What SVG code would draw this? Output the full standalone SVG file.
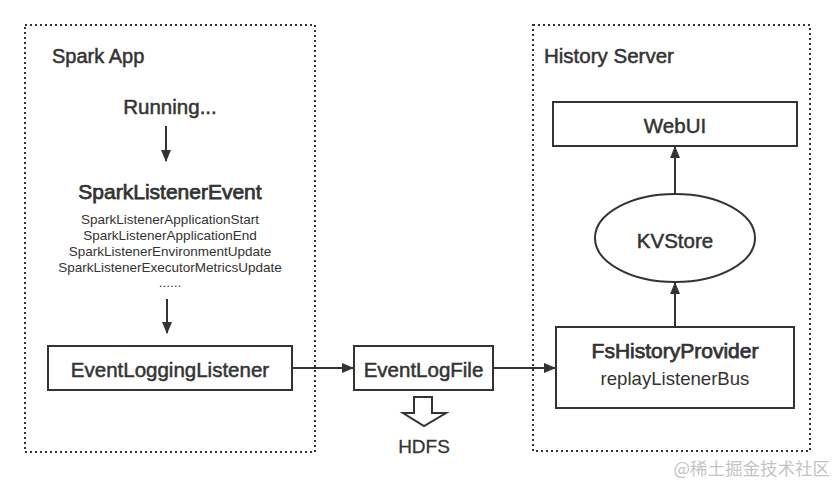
<svg xmlns="http://www.w3.org/2000/svg" width="836" height="485" viewBox="0 0 836 485">
<defs>
<style>
text{font-family:"Liberation Sans",Arial,sans-serif;fill:#333;}
.m{font-size:20.5px;stroke:#333;stroke-width:0.5;}
.b{font-size:21px;stroke:#333;stroke-width:0.75;}
.s{font-size:13.5px;}
.box{fill:#fff;stroke:#333;stroke-width:2;}
.grp{fill:none;stroke:#333;stroke-width:2;stroke-dasharray:2 3;}
.ln{stroke:#333;stroke-width:2;fill:none;}
</style>
<marker id="a" markerWidth="12" markerHeight="12" refX="11" refY="5" orient="auto" markerUnits="userSpaceOnUse">
<path d="M0,0 L12,5 L0,10 z" fill="#333"/>
</marker>
</defs>
<rect width="836" height="485" fill="#fff"/>
<g id="spark-app">
<rect class="grp" x="25" y="25" width="290" height="427"/>
<text class="m" x="52" y="63" style="font-size:20px">Spark App</text>
</g>
<g id="history-server">
<rect class="grp" x="533" y="25" width="277" height="426"/>
<text class="m" x="544" y="63">History Server</text>
</g>
<g id="running">
<text class="m" x="170" y="114" text-anchor="middle">Running...</text>
</g>
<g id="spark-listener-event">
<text class="b" x="170" y="199" text-anchor="middle">SparkListenerEvent</text>
<text class="s" x="170" y="224" text-anchor="middle">SparkListenerApplicationStart</text>
<text class="s" x="170" y="240" text-anchor="middle">SparkListenerApplicationEnd</text>
<text class="s" x="170" y="256" text-anchor="middle">SparkListenerEnvironmentUpdate</text>
<text class="s" x="170" y="272" text-anchor="middle">SparkListenerExecutorMetricsUpdate</text>
<text class="s" x="170" y="287" text-anchor="middle">......</text>
</g>
<g id="event-logging-listener">
<rect class="box" x="48" y="346" width="244" height="44"/>
<text class="m" x="170" y="377" text-anchor="middle">EventLoggingListener</text>
</g>
<g id="event-log-file">
<rect class="box" x="354" y="346" width="139" height="44"/>
<text class="m" x="423.5" y="377" text-anchor="middle">EventLogFile</text>
</g>
<g id="hdfs">
<path d="M414,397 L432,397 L432,413 L446,413 L424,426 L403,413 L414,413 Z" fill="#fff" stroke="#333" stroke-width="2"/>
<text x="424" y="453" text-anchor="middle" style="font-size:19px;stroke:#333;stroke-width:0.3">HDFS</text>
</g>
<g id="fs-history-provider">
<rect class="box" x="556" y="327" width="238" height="81"/>
<text class="b" x="675" y="358" text-anchor="middle">FsHistoryProvider</text>
<text x="675" y="385" text-anchor="middle" style="font-size:18.6px">replayListenerBus</text>
</g>
<g id="kvstore">
<ellipse cx="675" cy="238" rx="80" ry="44" fill="#fff" stroke="#333" stroke-width="2"/>
<text class="m" x="675" y="248" text-anchor="middle">KVStore</text>
</g>
<g id="webui">
<rect class="box" x="553" y="102" width="244" height="44"/>
<text class="m" x="675" y="133" text-anchor="middle">WebUI</text>
</g>
<g id="connectors">
<line class="ln" x1="166" y1="126" x2="166" y2="161" marker-end="url(#a)"/>
<line class="ln" x1="167" y1="299" x2="167" y2="333" marker-end="url(#a)"/>
<line class="ln" x1="292" y1="368" x2="353" y2="368" marker-end="url(#a)"/>
<line class="ln" x1="493" y1="368" x2="555" y2="368" marker-end="url(#a)"/>
<line class="ln" x1="675" y1="327" x2="675" y2="283" marker-end="url(#a)"/>
<line class="ln" x1="675" y1="194" x2="675" y2="147" marker-end="url(#a)"/>
</g>
<text x="830" y="475" text-anchor="end" style="font-family:'Noto Sans CJK SC','Liberation Sans',sans-serif;font-size:17.5px;fill:#c4c4c4">@稀土掘金技术社区</text>
</svg>
